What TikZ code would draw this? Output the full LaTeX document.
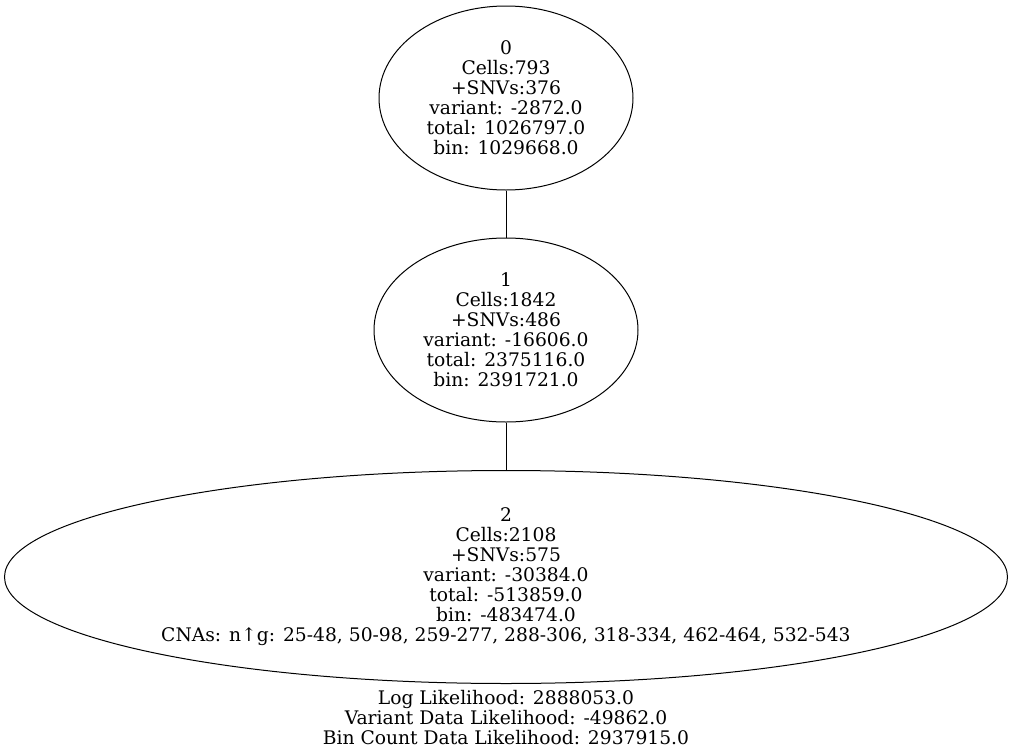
\documentclass[tikz,border=0pt]{standalone}
\usepackage{fontspec}
\setmainfont{DejaVu Serif}
\usetikzlibrary{shapes.geometric}
\begin{document}
\begin{tikzpicture}[x=1pt,y=-1pt,
  treenode/.style={draw, ellipse, line width=1pt, inner sep=0pt, align=center,
    font=\fontsize{18.7}{20}\selectfont},
  lbl/.style={align=center, inner sep=0pt, font=\fontsize{18.7}{20}\selectfont},
  link/.style={draw, line width=1pt}]
  \useasboundingbox (0,0) rectangle (1013,755);
  \node[treenode, minimum width=254pt, minimum height=184pt] (n0) at (506,98)
    {0\\Cells:793\\+SNVs:376\\variant: -2872.0\\total: 1026797.0\\bin: 1029668.0};
  \node[treenode, minimum width=264pt, minimum height=184pt] (n1) at (506,330)
    {1\\Cells:1842\\+SNVs:486\\variant: -16606.0\\total: 2375116.0\\bin: 2391721.0};
  \node[treenode, minimum width=1003pt, minimum height=213pt] (n2) at (506,577)
    {2\\Cells:2108\\+SNVs:575\\variant: -30384.0\\total: -513859.0\\bin: -483474.0\\CNAs: n↑g: 25-48, 50-98, 259-277, 288-306, 318-334, 462-464, 532-543};
  \node[lbl] (ll) at (506,718)
    {Log Likelihood: 2888053.0\\Variant Data Likelihood: -49862.0\\Bin Count Data Likelihood: 2937915.0};
  \path[link] (n0.south) -- (n1.north);
  \path[link] (n1.south) -- (n2.north);
\end{tikzpicture}
\end{document}
